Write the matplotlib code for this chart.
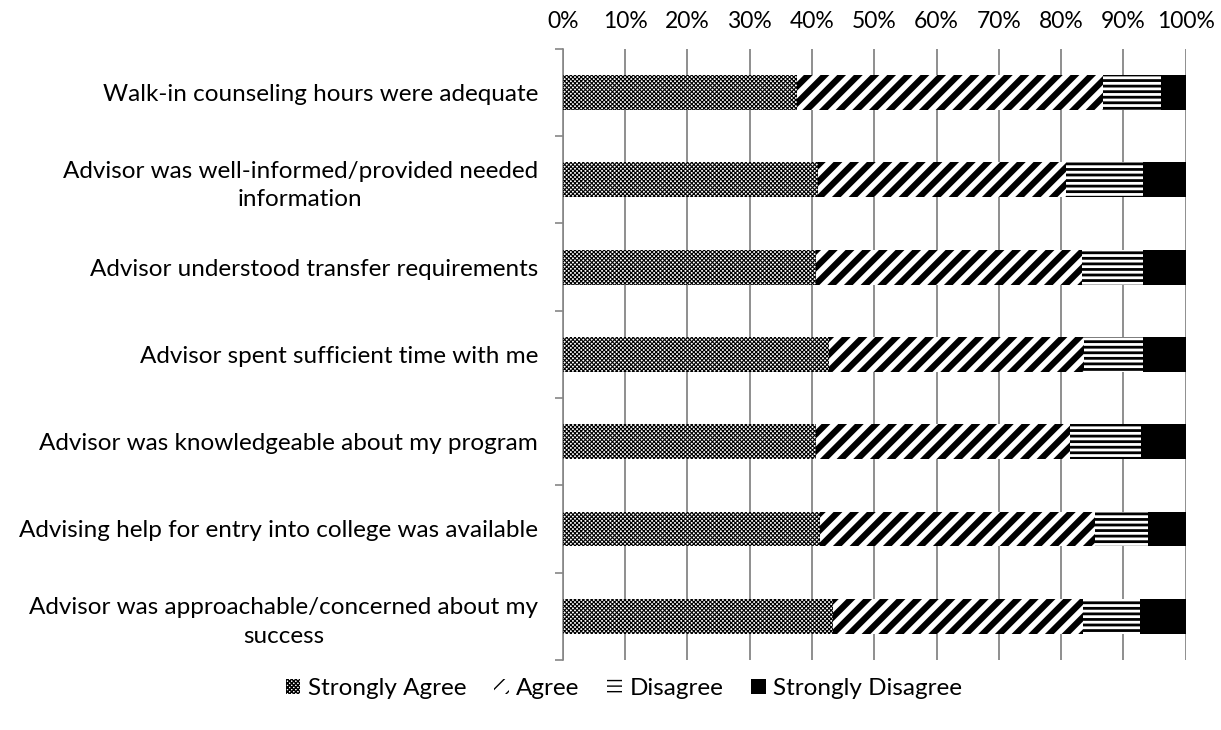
#!/usr/bin/env python3
"""Stacked 100% bar chart of advising survey responses."""

import matplotlib
matplotlib.use("Agg")
import matplotlib.pyplot as plt
import numpy as np
from matplotlib.ticker import MultipleLocator, PercentFormatter

plt.rcParams["font.family"] = ["Lato", "DejaVu Sans"]

questions = [
    "Walk-in counseling hours were adequate",
    "Advisor was well-informed/provided needed\ninformation",
    "Advisor understood transfer requirements",
    "Advisor spent sufficient time with me",
    "Advisor was knowledgeable about my program",
    "Advising help for entry into college was available",
    "Advisor was approachable/concerned about my\nsuccess",
]
strongly_agree = [37.6, 40.9, 40.7, 42.8, 40.7, 41.3, 43.4]
agree = [49.1, 39.9, 42.7, 40.9, 40.8, 44.2, 40.2]
disagree = [9.3, 12.4, 9.8, 9.5, 11.4, 8.5, 9.1]
strongly_disagree = [4.0, 6.8, 6.8, 6.8, 7.1, 6.0, 7.3]

series = [
    ("Strongly Agree", strongly_agree, "xxxxxxxx", 0.8, "white"),
    ("Agree", agree, "//", 4.5, "white"),
    ("Disagree", disagree, "---", 2.0, "white"),
    ("Strongly Disagree", strongly_disagree, None, 1.0, "black"),
]

FS = 17.5

fig = plt.figure(figsize=(12.21, 7.30), dpi=100)
ax = fig.add_axes([0.461, 0.096, 0.510, 0.837])

y = np.arange(len(questions))
left = np.zeros(len(questions))
handles = []
for label, vals, hatch, hlw, fc in series:
    plt.rcParams["hatch.linewidth"] = hlw
    bars = ax.barh(y, vals, left=left, height=0.4, color=fc,
                   edgecolor="black", linewidth=0, hatch=hatch, label=label,
                   zorder=3)
    for p in bars:
        if hasattr(p, "set_hatch_linewidth"):
            p.set_hatch_linewidth(hlw)
    handles.append(bars)
    left += np.array(vals)

ax.set_xlim(0, 100)
ax.set_ylim(len(questions) - 0.5, -0.5)
ax.xaxis.set_major_locator(MultipleLocator(10))
ax.xaxis.set_major_formatter(PercentFormatter(decimals=0))
ax.xaxis.tick_top()
ax.tick_params(axis="x", length=0, pad=12, labelsize=FS - 1)
ax.grid(axis="x", color="#868686", linewidth=1.3, zorder=0)

ax.set_yticks(y)
ax.set_yticklabels(questions, fontsize=FS, multialignment="center",
                   linespacing=1.45)
ax.set_yticks(np.arange(len(questions) + 1) - 0.5, minor=True)
ax.tick_params(axis="y", which="major", length=0, pad=18)
ax.tick_params(axis="y", which="minor", length=6, color="#868686", width=1.2)

for s in ["top", "right", "bottom"]:
    ax.spines[s].set_visible(False)
ax.spines["left"].set_color("#868686")
ax.spines["left"].set_linewidth(1.2)

fig.legend(handles=handles, loc="center", bbox_to_anchor=(0.511, 0.057),
           ncol=4, frameon=False, fontsize=FS, handlelength=0.6,
           handleheight=0.6, handletextpad=0.3, columnspacing=1.15)

fig.savefig("out.png", dpi=100)
